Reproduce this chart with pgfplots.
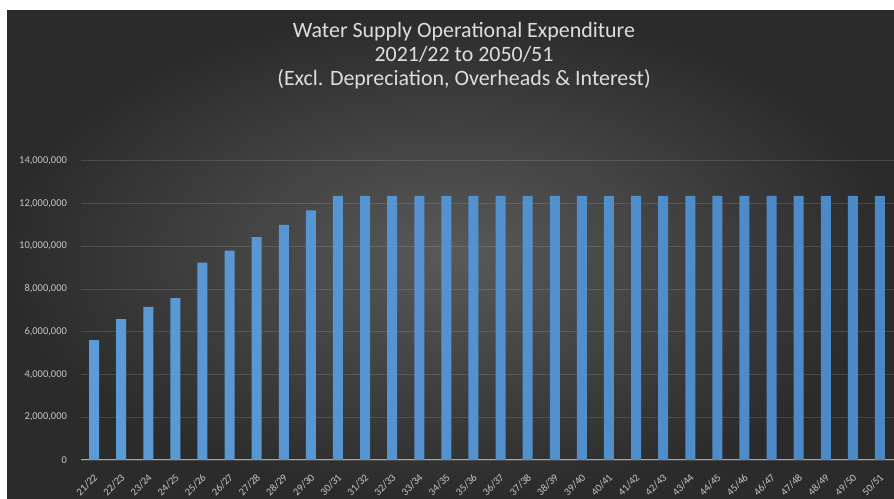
\documentclass[border=0pt]{standalone}
\usepackage{pgfplots}
\pgfplotsset{compat=1.18}
\usepackage{fontspec}
\setmainfont{Carlito}
\definecolor{bginner}{HTML}{595959}
\definecolor{bgouter}{HTML}{2B2B2B}
\definecolor{barmid}{HTML}{70B2EE}
\definecolor{barleft}{HTML}{5B9BD6}
\definecolor{barright}{HTML}{4A88C6}
\definecolor{ticktext}{HTML}{C8C8C8}
\definecolor{titletext}{HTML}{DEDEDE}
\definecolor{axisline}{HTML}{A6A6A6}
\begin{document}
\begin{tikzpicture}[x=1bp,y=1bp]
\fill[white] (0,0) rectangle (894,499);
\shade[inner color=bginner, outer color=bgouter] (7,0) rectangle (894,488);
\begin{axis}[
  at={(80.5bp,39bp)}, anchor=south west,
  scale only axis,
  width=813bp, height=299.3bp,
  xmin=-0.5, xmax=29.5,
  ymin=0, ymax=14000000,
  ytick={0,2000000,4000000,6000000,8000000,10000000,12000000,14000000},
  scaled y ticks=false,
  yticklabel style={/pgf/number format/fixed, /pgf/number format/1000 sep={,}, font=\fontsize{10.5}{12}\selectfont, text=ticktext, xshift=-8bp},
  /pgf/number format/assume math mode=true,
  xtick={0,...,29},
  xticklabels={21/22,22/23,23/24,24/25,25/26,26/27,27/28,28/29,29/30,30/31,31/32,32/33,33/34,34/35,35/36,36/37,37/38,38/39,39/40,40/41,41/42,42/43,43/44,44/45,45/46,46/47,47/48,48/49,49/50,50/51},
  xticklabel style={rotate=45, anchor=east, font=\fontsize{10.5}{12}\selectfont, text=ticktext, yshift=-11bp, xshift=-5bp},
  axis x line=bottom, axis y line=left,
  x axis line style={draw=axisline, line width=1bp, -},
  y axis line style={draw=none},
  tick style={draw=none},
  ymajorgrids,
  grid style={draw=white, opacity=0.13, line width=0.8bp},
  clip=false,
]
\addplot[ybar, bar width=10bp, draw=none, left color=barleft, middle color=barmid, right color=barright] coordinates {
(0,5610000) (1,6590000) (2,7160000) (3,7570000) (4,9230000)
(5,9790000) (6,10420000) (7,11000000) (8,11680000) (9,12350000)
(10,12350000) (11,12350000) (12,12350000) (13,12350000) (14,12350000)
(15,12350000) (16,12350000) (17,12350000) (18,12350000) (19,12350000)
(20,12350000) (21,12350000) (22,12350000) (23,12350000) (24,12350000)
(25,12350000) (26,12350000) (27,12350000) (28,12350000) (29,12350000)
};
\end{axis}
\node[align=center, text=titletext, font=\fontsize{22}{24}\selectfont] at (464,443) {Water Supply Operational Expenditure\\2021/22 to 2050/51\\(Excl. Depreciation, Overheads \& Interest)};
\pgfresetboundingbox
\path[use as bounding box] (0,0) rectangle (894,499);
\end{tikzpicture}
\end{document}
